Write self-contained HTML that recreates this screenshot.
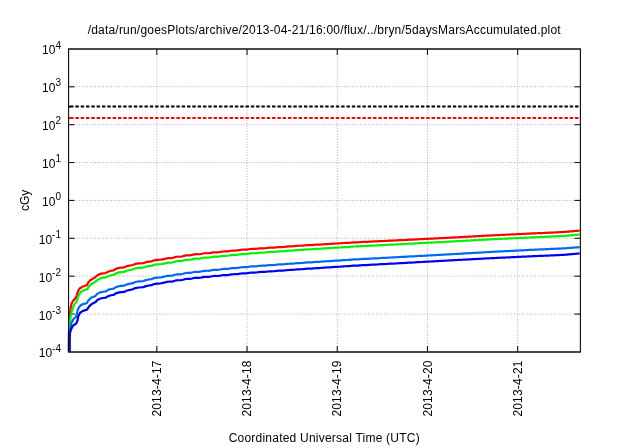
<!DOCTYPE html>
<html><head><meta charset="utf-8"><title>plot</title>
<style>
html,body{margin:0;padding:0;background:#fff;}
body{width:640px;height:448px;overflow:hidden;}
svg{display:block;will-change:transform;}
text{font-family:"Liberation Sans",sans-serif;font-size:12px;fill:#000;}
.sup{font-size:10px;}
</style></head><body>
<svg width="640" height="448" viewBox="0 0 640 448">
<rect width="640" height="448" fill="#fff"/>
<g stroke="#b0b0b0" stroke-width="1" stroke-dasharray="1 1.65" fill="none">
<line x1="68.55" y1="86.78" x2="580.4" y2="86.78"/>
<line x1="68.55" y1="124.66" x2="580.4" y2="124.66"/>
<line x1="68.55" y1="162.54" x2="580.4" y2="162.54"/>
<line x1="68.55" y1="200.43" x2="580.4" y2="200.43"/>
<line x1="68.55" y1="238.31" x2="580.4" y2="238.31"/>
<line x1="68.55" y1="276.19" x2="580.4" y2="276.19"/>
<line x1="68.55" y1="314.07" x2="580.4" y2="314.07"/>
<line x1="156.85" y1="48.9" x2="156.85" y2="351.95"/>
<line x1="247.05" y1="48.9" x2="247.05" y2="351.95"/>
<line x1="337.25" y1="48.9" x2="337.25" y2="351.95"/>
<line x1="427.45" y1="48.9" x2="427.45" y2="351.95"/>
<line x1="517.65" y1="48.9" x2="517.65" y2="351.95"/>
</g>
<g stroke="#181818" stroke-width="1.1" fill="none">
<line x1="68.55" y1="86.78" x2="74.55" y2="86.78"/><line x1="580.4" y1="86.78" x2="574.4" y2="86.78"/>
<line x1="68.55" y1="124.66" x2="74.55" y2="124.66"/><line x1="580.4" y1="124.66" x2="574.4" y2="124.66"/>
<line x1="68.55" y1="162.54" x2="74.55" y2="162.54"/><line x1="580.4" y1="162.54" x2="574.4" y2="162.54"/>
<line x1="68.55" y1="200.43" x2="74.55" y2="200.43"/><line x1="580.4" y1="200.43" x2="574.4" y2="200.43"/>
<line x1="68.55" y1="238.31" x2="74.55" y2="238.31"/><line x1="580.4" y1="238.31" x2="574.4" y2="238.31"/>
<line x1="68.55" y1="276.19" x2="74.55" y2="276.19"/><line x1="580.4" y1="276.19" x2="574.4" y2="276.19"/>
<line x1="68.55" y1="314.07" x2="74.55" y2="314.07"/><line x1="580.4" y1="314.07" x2="574.4" y2="314.07"/>
<line x1="156.85" y1="351.95" x2="156.85" y2="345.95"/><line x1="156.85" y1="48.9" x2="156.85" y2="54.9"/>
<line x1="247.05" y1="351.95" x2="247.05" y2="345.95"/><line x1="247.05" y1="48.9" x2="247.05" y2="54.9"/>
<line x1="337.25" y1="351.95" x2="337.25" y2="345.95"/><line x1="337.25" y1="48.9" x2="337.25" y2="54.9"/>
<line x1="427.45" y1="351.95" x2="427.45" y2="345.95"/><line x1="427.45" y1="48.9" x2="427.45" y2="54.9"/>
<line x1="517.65" y1="351.95" x2="517.65" y2="345.95"/><line x1="517.65" y1="48.9" x2="517.65" y2="54.9"/>
</g>
<line x1="68.55" y1="106.59" x2="580.4" y2="106.59" stroke="#000" stroke-width="2" stroke-dasharray="3.45 1.866" stroke-dashoffset="3.816"/>
<line x1="68.55" y1="117.99" x2="580.4" y2="117.99" stroke="#ff0000" stroke-width="2" stroke-dasharray="3.45 1.866" stroke-dashoffset="3.816"/>
<line x1="68.55" y1="106.59" x2="70.3" y2="106.59" stroke="#000" stroke-width="2"/>
<line x1="68.55" y1="117.99" x2="70.3" y2="117.99" stroke="#ff0000" stroke-width="2"/>
<polyline points="68.80,351.60 68.90,335.00 69.50,322.00 70.00,314.00 70.50,308.60 71.60,303.75 73.20,300.60 75.40,298.40 76.60,295.90 77.60,292.20 79.40,288.75 82.25,286.80 84.50,286.00 86.80,285.20 88.40,282.30 90.30,280.30 93.40,278.40 95.25,277.30 97.40,275.25 100.25,273.90 102.75,273.40 105.60,273.10 108.10,271.70 110.90,270.75 113.70,270.30 115.90,268.90 119.00,267.90 121.50,267.60 124.00,267.40 127.10,266.10 130.25,265.50 132.75,265.00 135.25,263.90 139.00,263.40 143.40,263.10 145.90,262.20 149.00,261.60 151.50,261.40 154.00,260.30 157.10,259.90 160.90,259.70 164.00,259.10 165.00,258.91 166.00,258.58 167.00,258.34 168.00,258.22 169.00,258.19 170.00,258.21 171.00,258.18 172.00,258.05 173.00,257.81 174.00,257.49 175.00,257.16 176.00,256.90 177.00,256.76 178.00,256.72 179.00,256.73 180.00,256.73 181.00,256.65 182.00,256.46 183.00,256.18 184.00,255.88 185.00,255.62 186.00,255.44 187.00,255.37 188.00,255.36 189.00,255.36 190.00,255.30 191.00,255.14 192.00,254.92 193.00,254.67 194.00,254.44 195.00,254.28 196.00,254.21 197.00,254.22 198.00,254.25 199.00,254.24 200.00,254.15 201.00,253.97 202.00,253.74 203.00,253.51 204.00,253.33 205.00,253.23 206.00,253.21 207.00,253.23 208.00,253.24 209.00,253.18 210.00,253.05 211.00,252.85 212.00,252.63 213.00,252.45 214.00,252.34 215.00,252.31 216.00,252.32 217.00,252.34 218.00,252.30 219.00,252.19 220.00,252.01 221.00,251.81 222.00,251.62 223.00,251.49 224.00,251.43 225.00,251.43 226.00,251.44 227.00,251.41 228.00,251.32 229.00,251.17 230.00,250.97 231.00,250.78 232.00,250.64 233.00,250.56 234.00,250.54 235.00,250.54 236.00,250.52 237.00,250.45 238.00,250.32 239.00,250.15 240.00,249.97 241.00,249.83 242.00,249.74 243.00,249.71 244.00,249.72 245.00,249.72 246.00,249.68 247.00,249.57 248.00,249.43 249.00,249.26 250.00,249.11 251.00,249.00 252.00,248.95 253.00,248.95 254.00,248.95 255.00,248.93 256.00,248.86 257.00,248.74 258.00,248.60 259.00,248.46 260.00,248.36 261.00,248.31 262.00,248.30 263.00,248.31 264.00,248.30 265.00,248.24 266.00,248.14 267.00,248.01 268.00,247.87 269.00,247.76 270.00,247.69 271.00,247.67 272.00,247.67 273.00,247.66 274.00,247.62 275.00,247.53 276.00,247.41 277.00,247.28 278.00,247.16 279.00,247.08 280.00,247.04 281.00,247.03 282.00,247.03 283.00,246.99 284.00,246.92 285.00,246.81 286.00,246.68 287.00,246.56 288.00,246.47 289.00,246.42 290.00,246.40 291.00,246.39 292.00,246.36 293.00,246.30 294.00,246.21 295.00,246.09 296.00,245.96 297.00,245.87 298.00,245.80 299.00,245.77 300.00,245.76 301.00,245.74 302.00,245.68 303.00,245.60 304.00,245.49 305.00,245.37 306.00,245.27 307.00,245.21 308.00,245.17 309.00,245.16 310.00,245.15 311.00,245.11 312.00,245.05 313.00,244.95 314.00,244.84 315.00,244.74 316.00,244.67 317.00,244.63 318.00,244.61 319.00,244.59 320.00,244.56 321.00,244.51 322.00,244.42 323.00,244.32 324.00,244.22 325.00,244.14 326.00,244.08 327.00,244.05 328.00,244.04 329.00,244.01 330.00,243.96 331.00,243.89 332.00,243.79 333.00,243.69 334.00,243.60 335.00,243.54 336.00,243.51 337.00,243.48 338.00,243.46 339.00,243.42 340.00,243.35 341.00,243.26 342.00,243.16 343.00,243.07 344.00,243.01 345.00,242.96 346.00,242.93 347.00,242.91 348.00,242.87 349.00,242.81 350.00,242.73 351.00,242.63 352.00,242.54 353.00,242.47 354.00,242.42 355.00,242.38 356.00,242.37 357.00,242.34 358.00,242.30 359.00,242.24 360.00,242.16 361.00,242.08 362.00,242.01 363.00,241.97 364.00,241.94 365.00,241.92 366.00,241.89 367.00,241.86 368.00,241.80 369.00,241.73 370.00,241.65 371.00,241.58 372.00,241.53 373.00,241.49 374.00,241.47 375.00,241.45 376.00,241.41 377.00,241.36 378.00,241.29 379.00,241.22 380.00,241.15 381.00,241.09 382.00,241.05 383.00,241.02 384.00,241.00 385.00,240.97 386.00,240.92 387.00,240.86 388.00,240.79 389.00,240.72 390.00,240.65 391.00,240.61 392.00,240.58 393.00,240.55 394.00,240.52 395.00,240.48 396.00,240.42 397.00,240.35 398.00,240.28 399.00,240.22 400.00,240.17 401.00,240.13 402.00,240.10 403.00,240.07 404.00,240.03 405.00,239.98 406.00,239.91 407.00,239.84 408.00,239.78 409.00,239.72 410.00,239.68 411.00,239.64 412.00,239.61 413.00,239.58 414.00,239.53 415.00,239.47 416.00,239.40 417.00,239.33 418.00,239.27 419.00,239.23 420.00,239.19 421.00,239.16 422.00,239.12 423.00,239.08 424.00,239.02 425.00,238.95 426.00,238.89 427.00,238.83 428.00,238.78 429.00,238.74 430.00,238.70 431.00,238.67 432.00,238.62 433.00,238.57 434.00,238.51 435.00,238.44 436.00,238.38 437.00,238.33 438.00,238.28 439.00,238.25 440.00,238.21 441.00,238.17 442.00,238.12 443.00,238.06 444.00,238.00 445.00,237.93 446.00,237.88 447.00,237.83 448.00,237.79 449.00,237.76 450.00,237.72 451.00,237.67 452.00,237.60 453.00,237.54 454.00,237.47 455.00,237.41 456.00,237.35 457.00,237.30 458.00,237.26 459.00,237.22 460.00,237.17 461.00,237.11 462.00,237.05 463.00,236.98 464.00,236.91 465.00,236.86 466.00,236.81 467.00,236.76 468.00,236.72 469.00,236.67 470.00,236.62 471.00,236.55 472.00,236.49 473.00,236.42 474.00,236.36 475.00,236.31 476.00,236.27 477.00,236.22 478.00,236.17 479.00,236.12 480.00,236.06 481.00,236.00 482.00,235.93 483.00,235.87 484.00,235.82 485.00,235.77 486.00,235.72 487.00,235.68 488.00,235.62 489.00,235.57 490.00,235.50 491.00,235.45 492.00,235.39 493.00,235.34 494.00,235.30 495.00,235.26 496.00,235.22 497.00,235.17 498.00,235.12 499.00,235.07 500.00,235.01 501.00,234.95 502.00,234.90 503.00,234.86 504.00,234.81 505.00,234.77 506.00,234.73 507.00,234.68 508.00,234.63 509.00,234.57 510.00,234.52 511.00,234.46 512.00,234.42 513.00,234.37 514.00,234.33 515.00,234.29 516.00,234.24 517.00,234.19 518.00,234.14 519.00,234.08 520.00,234.03 521.00,233.98 522.00,233.93 523.00,233.89 524.00,233.85 525.00,233.80 526.00,233.75 527.00,233.70 528.00,233.64 529.00,233.59 530.00,233.54 531.00,233.49 532.00,233.46 533.00,233.42 534.00,233.38 535.00,233.34 536.00,233.29 537.00,233.24 538.00,233.19 539.00,233.15 540.00,233.11 541.00,233.07 542.00,233.03 543.00,232.99 544.00,232.95 545.00,232.91 546.00,232.86 547.00,232.81 548.00,232.76 549.00,232.72 550.00,232.68 551.00,232.64 552.00,232.61 553.00,232.55 554.00,232.50 555.00,232.44 556.00,232.38 557.00,232.32 558.00,232.27 559.00,232.22 560.00,232.17 561.00,232.12 562.00,232.07 563.00,232.01 564.00,231.96 565.00,231.90 566.00,231.81 567.00,231.72 568.00,231.63 569.00,231.54 570.00,231.46 571.00,231.38 572.00,231.29 573.00,231.20 574.00,231.10 575.00,231.01 576.00,230.92 577.00,230.83 578.00,230.75 579.00,230.66 579.70,230.60" fill="none" stroke="#ff0000" stroke-width="2.2" stroke-linejoin="round" stroke-linecap="butt"/>
<polyline points="68.90,351.60 69.00,340.00 69.40,329.00 69.75,322.75 70.70,316.50 71.60,312.10 72.75,308.10 74.40,304.40 76.30,302.20 77.60,298.75 78.50,295.60 80.40,292.50 82.90,290.60 85.40,289.70 87.60,289.10 88.80,286.60 91.00,284.20 93.60,282.70 95.25,281.90 97.40,280.00 100.25,278.40 102.75,277.70 105.90,277.40 108.10,276.20 110.90,275.20 113.70,274.75 115.90,273.36 119.00,272.36 121.50,272.07 124.00,271.87 127.10,270.58 130.25,269.98 132.75,269.49 135.25,268.39 139.00,267.90 143.40,267.59 145.90,266.69 149.00,266.08 151.50,265.88 154.00,264.78 157.10,264.37 160.90,264.16 164.00,263.56 165.00,263.36 166.00,263.03 167.00,262.79 168.00,262.67 169.00,262.64 170.00,262.65 171.00,262.62 172.00,262.49 173.00,262.25 174.00,261.93 175.00,261.60 176.00,261.34 177.00,261.20 178.00,261.15 179.00,261.16 180.00,261.16 181.00,261.07 182.00,260.88 183.00,260.61 184.00,260.30 185.00,260.04 186.00,259.86 187.00,259.79 188.00,259.78 189.00,259.77 190.00,259.71 191.00,259.55 192.00,259.33 193.00,259.08 194.00,258.85 195.00,258.68 196.00,258.62 197.00,258.62 198.00,258.65 199.00,258.63 200.00,258.54 201.00,258.36 202.00,258.13 203.00,257.89 204.00,257.71 205.00,257.62 206.00,257.59 207.00,257.61 208.00,257.62 209.00,257.56 210.00,257.42 211.00,257.22 212.00,257.01 213.00,256.82 214.00,256.71 215.00,256.68 216.00,256.69 217.00,256.70 218.00,256.66 219.00,256.55 220.00,256.37 221.00,256.16 222.00,255.97 223.00,255.84 224.00,255.78 225.00,255.78 226.00,255.78 227.00,255.76 228.00,255.67 229.00,255.51 230.00,255.31 231.00,255.12 232.00,254.98 233.00,254.89 234.00,254.87 235.00,254.87 236.00,254.85 237.00,254.78 238.00,254.64 239.00,254.47 240.00,254.30 241.00,254.15 242.00,254.06 243.00,254.03 244.00,254.04 245.00,254.03 246.00,253.99 247.00,253.89 248.00,253.73 249.00,253.56 250.00,253.41 251.00,253.31 252.00,253.26 253.00,253.25 254.00,253.25 255.00,253.23 256.00,253.16 257.00,253.04 258.00,252.89 259.00,252.75 260.00,252.65 261.00,252.59 262.00,252.58 263.00,252.59 264.00,252.58 265.00,252.52 266.00,252.42 267.00,252.28 268.00,252.14 269.00,252.03 270.00,251.96 271.00,251.94 272.00,251.93 273.00,251.93 274.00,251.88 275.00,251.80 276.00,251.67 277.00,251.53 278.00,251.41 279.00,251.33 280.00,251.29 281.00,251.28 282.00,251.27 283.00,251.24 284.00,251.17 285.00,251.06 286.00,250.92 287.00,250.80 288.00,250.71 289.00,250.66 290.00,250.64 291.00,250.62 292.00,250.60 293.00,250.53 294.00,250.44 295.00,250.31 296.00,250.19 297.00,250.09 298.00,250.02 299.00,249.99 300.00,249.98 301.00,249.95 302.00,249.90 303.00,249.81 304.00,249.70 305.00,249.58 306.00,249.48 307.00,249.41 308.00,249.38 309.00,249.36 310.00,249.35 311.00,249.31 312.00,249.24 313.00,249.14 314.00,249.03 315.00,248.93 316.00,248.86 317.00,248.81 318.00,248.79 319.00,248.77 320.00,248.74 321.00,248.68 322.00,248.59 323.00,248.49 324.00,248.39 325.00,248.30 326.00,248.25 327.00,248.22 328.00,248.20 329.00,248.17 330.00,248.12 331.00,248.04 332.00,247.94 333.00,247.84 334.00,247.75 335.00,247.69 336.00,247.65 337.00,247.63 338.00,247.60 339.00,247.55 340.00,247.48 341.00,247.39 342.00,247.29 343.00,247.20 344.00,247.13 345.00,247.09 346.00,247.06 347.00,247.03 348.00,246.99 349.00,246.93 350.00,246.84 351.00,246.75 352.00,246.65 353.00,246.58 354.00,246.52 355.00,246.49 356.00,246.47 357.00,246.44 358.00,246.40 359.00,246.33 360.00,246.25 361.00,246.17 362.00,246.10 363.00,246.05 364.00,246.02 365.00,246.00 366.00,245.97 367.00,245.94 368.00,245.88 369.00,245.80 370.00,245.72 371.00,245.65 372.00,245.59 373.00,245.56 374.00,245.53 375.00,245.51 376.00,245.47 377.00,245.42 378.00,245.35 379.00,245.27 380.00,245.20 381.00,245.14 382.00,245.09 383.00,245.06 384.00,245.04 385.00,245.01 386.00,244.96 387.00,244.89 388.00,244.82 389.00,244.75 390.00,244.68 391.00,244.63 392.00,244.60 393.00,244.57 394.00,244.54 395.00,244.50 396.00,244.44 397.00,244.37 398.00,244.30 399.00,244.23 400.00,244.18 401.00,244.13 402.00,244.10 403.00,244.07 404.00,244.03 405.00,243.97 406.00,243.91 407.00,243.83 408.00,243.77 409.00,243.71 410.00,243.66 411.00,243.63 412.00,243.59 413.00,243.56 414.00,243.51 415.00,243.44 416.00,243.37 417.00,243.30 418.00,243.24 419.00,243.19 420.00,243.15 421.00,243.12 422.00,243.08 423.00,243.03 424.00,242.98 425.00,242.91 426.00,242.84 427.00,242.78 428.00,242.72 429.00,242.68 430.00,242.64 431.00,242.61 432.00,242.56 433.00,242.51 434.00,242.44 435.00,242.38 436.00,242.31 437.00,242.25 438.00,242.21 439.00,242.17 440.00,242.13 441.00,242.09 442.00,242.04 443.00,241.98 444.00,241.91 445.00,241.85 446.00,241.79 447.00,241.74 448.00,241.70 449.00,241.66 450.00,241.62 451.00,241.57 452.00,241.50 453.00,241.44 454.00,241.37 455.00,241.31 456.00,241.25 457.00,241.20 458.00,241.16 459.00,241.12 460.00,241.07 461.00,241.01 462.00,240.95 463.00,240.88 464.00,240.81 465.00,240.76 466.00,240.71 467.00,240.66 468.00,240.62 469.00,240.57 470.00,240.52 471.00,240.45 472.00,240.39 473.00,240.32 474.00,240.26 475.00,240.21 476.00,240.17 477.00,240.12 478.00,240.07 479.00,240.02 480.00,239.96 481.00,239.90 482.00,239.83 483.00,239.77 484.00,239.72 485.00,239.67 486.00,239.62 487.00,239.58 488.00,239.52 489.00,239.47 490.00,239.40 491.00,239.35 492.00,239.29 493.00,239.24 494.00,239.20 495.00,239.16 496.00,239.12 497.00,239.07 498.00,239.02 499.00,238.97 500.00,238.91 501.00,238.85 502.00,238.80 503.00,238.76 504.00,238.71 505.00,238.67 506.00,238.63 507.00,238.58 508.00,238.53 509.00,238.47 510.00,238.42 511.00,238.36 512.00,238.32 513.00,238.27 514.00,238.23 515.00,238.19 516.00,238.14 517.00,238.09 518.00,238.04 519.00,237.98 520.00,237.93 521.00,237.88 522.00,237.83 523.00,237.79 524.00,237.75 525.00,237.70 526.00,237.65 527.00,237.60 528.00,237.54 529.00,237.49 530.00,237.44 531.00,237.39 532.00,237.36 533.00,237.32 534.00,237.28 535.00,237.24 536.00,237.19 537.00,237.14 538.00,237.09 539.00,237.05 540.00,237.01 541.00,236.97 542.00,236.93 543.00,236.89 544.00,236.85 545.00,236.81 546.00,236.76 547.00,236.71 548.00,236.66 549.00,236.62 550.00,236.58 551.00,236.54 552.00,236.51 553.00,236.45 554.00,236.40 555.00,236.34 556.00,236.28 557.00,236.22 558.00,236.17 559.00,236.12 560.00,236.07 561.00,236.02 562.00,235.97 563.00,235.91 564.00,235.86 565.00,235.80 566.00,235.71 567.00,235.62 568.00,235.53 569.00,235.44 570.00,235.36 571.00,235.28 572.00,235.19 573.00,235.10 574.00,235.00 575.00,234.91 576.00,234.82 577.00,234.73 578.00,234.65 579.00,234.56 579.70,234.50" fill="none" stroke="#00f400" stroke-width="2.2" stroke-linejoin="round" stroke-linecap="butt"/>
<polyline points="69.10,351.60 69.20,342.00 69.60,334.00 70.40,329.00 71.60,322.75 73.50,319.00 76.00,316.80 76.90,313.40 77.60,310.25 79.10,307.00 81.20,304.90 84.10,303.90 86.70,303.30 88.50,300.30 91.00,297.80 93.50,296.80 95.30,296.10 97.20,293.90 100.00,292.40 102.90,291.75 105.90,291.45 108.10,289.90 110.90,289.00 113.70,288.56 115.90,287.17 119.00,286.18 121.50,285.89 124.00,285.70 127.10,284.35 130.25,283.69 132.75,283.15 135.25,282.00 139.00,281.44 143.40,281.06 145.90,280.12 149.00,279.46 151.50,279.22 154.00,278.07 157.10,277.62 160.90,277.35 164.00,276.70 165.00,276.51 166.00,276.18 167.00,275.93 168.00,275.81 169.00,275.79 170.00,275.80 171.00,275.77 172.00,275.64 173.00,275.39 174.00,275.07 175.00,274.75 176.00,274.49 177.00,274.34 178.00,274.30 179.00,274.31 180.00,274.31 181.00,274.22 182.00,274.03 183.00,273.76 184.00,273.45 185.00,273.19 186.00,273.02 187.00,272.94 188.00,272.93 189.00,272.93 190.00,272.86 191.00,272.70 192.00,272.49 193.00,272.24 194.00,272.00 195.00,271.84 196.00,271.77 197.00,271.78 198.00,271.80 199.00,271.79 200.00,271.70 201.00,271.52 202.00,271.29 203.00,271.05 204.00,270.87 205.00,270.78 206.00,270.76 207.00,270.77 208.00,270.78 209.00,270.72 210.00,270.59 211.00,270.39 212.00,270.17 213.00,269.99 214.00,269.88 215.00,269.84 216.00,269.86 217.00,269.87 218.00,269.83 219.00,269.72 220.00,269.54 221.00,269.33 222.00,269.14 223.00,269.01 224.00,268.95 225.00,268.95 226.00,268.95 227.00,268.93 228.00,268.84 229.00,268.68 230.00,268.49 231.00,268.30 232.00,268.15 233.00,268.07 234.00,268.04 235.00,268.04 236.00,268.03 237.00,267.95 238.00,267.82 239.00,267.65 240.00,267.47 241.00,267.33 242.00,267.24 243.00,267.20 244.00,267.20 245.00,267.20 246.00,267.15 247.00,267.05 248.00,266.90 249.00,266.72 250.00,266.57 251.00,266.46 252.00,266.41 253.00,266.40 254.00,266.40 255.00,266.38 256.00,266.30 257.00,266.18 258.00,266.03 259.00,265.89 260.00,265.79 261.00,265.73 262.00,265.72 263.00,265.72 264.00,265.71 265.00,265.65 266.00,265.55 267.00,265.41 268.00,265.27 269.00,265.15 270.00,265.08 271.00,265.06 272.00,265.05 273.00,265.04 274.00,265.00 275.00,264.91 276.00,264.78 277.00,264.64 278.00,264.52 279.00,264.44 280.00,264.40 281.00,264.39 282.00,264.38 283.00,264.34 284.00,264.26 285.00,264.15 286.00,264.02 287.00,263.89 288.00,263.80 289.00,263.74 290.00,263.72 291.00,263.71 292.00,263.68 293.00,263.62 294.00,263.51 295.00,263.39 296.00,263.26 297.00,263.16 298.00,263.10 299.00,263.06 300.00,263.04 301.00,263.02 302.00,262.96 303.00,262.87 304.00,262.76 305.00,262.63 306.00,262.54 307.00,262.47 308.00,262.43 309.00,262.41 310.00,262.40 311.00,262.36 312.00,262.29 313.00,262.19 314.00,262.07 315.00,261.97 316.00,261.89 317.00,261.84 318.00,261.82 319.00,261.80 320.00,261.77 321.00,261.70 322.00,261.61 323.00,261.51 324.00,261.40 325.00,261.32 326.00,261.26 327.00,261.23 328.00,261.20 329.00,261.17 330.00,261.12 331.00,261.04 332.00,260.94 333.00,260.83 334.00,260.74 335.00,260.68 336.00,260.64 337.00,260.61 338.00,260.58 339.00,260.53 340.00,260.46 341.00,260.37 342.00,260.26 343.00,260.17 344.00,260.10 345.00,260.05 346.00,260.02 347.00,259.99 348.00,259.94 349.00,259.88 350.00,259.79 351.00,259.69 352.00,259.60 353.00,259.52 354.00,259.46 355.00,259.42 356.00,259.40 357.00,259.38 358.00,259.33 359.00,259.26 360.00,259.18 361.00,259.09 362.00,259.02 363.00,258.97 364.00,258.94 365.00,258.91 366.00,258.88 367.00,258.84 368.00,258.78 369.00,258.70 370.00,258.62 371.00,258.55 372.00,258.49 373.00,258.45 374.00,258.42 375.00,258.39 376.00,258.36 377.00,258.30 378.00,258.23 379.00,258.15 380.00,258.07 381.00,258.01 382.00,257.96 383.00,257.93 384.00,257.90 385.00,257.87 386.00,257.82 387.00,257.75 388.00,257.68 389.00,257.60 390.00,257.53 391.00,257.48 392.00,257.44 393.00,257.41 394.00,257.38 395.00,257.33 396.00,257.27 397.00,257.20 398.00,257.13 399.00,257.06 400.00,257.00 401.00,256.96 402.00,256.92 403.00,256.89 404.00,256.84 405.00,256.79 406.00,256.72 407.00,256.64 408.00,256.57 409.00,256.51 410.00,256.46 411.00,256.43 412.00,256.39 413.00,256.35 414.00,256.30 415.00,256.23 416.00,256.16 417.00,256.08 418.00,256.02 419.00,255.97 420.00,255.93 421.00,255.89 422.00,255.85 423.00,255.80 424.00,255.74 425.00,255.67 426.00,255.60 427.00,255.53 428.00,255.48 429.00,255.43 430.00,255.39 431.00,255.35 432.00,255.31 433.00,255.25 434.00,255.18 435.00,255.11 436.00,255.05 437.00,254.99 438.00,254.94 439.00,254.90 440.00,254.86 441.00,254.81 442.00,254.76 443.00,254.69 444.00,254.63 445.00,254.56 446.00,254.50 447.00,254.45 448.00,254.40 449.00,254.36 450.00,254.32 451.00,254.26 452.00,254.20 453.00,254.13 454.00,254.06 455.00,253.99 456.00,253.93 457.00,253.88 458.00,253.84 459.00,253.79 460.00,253.74 461.00,253.68 462.00,253.61 463.00,253.54 464.00,253.47 465.00,253.41 466.00,253.36 467.00,253.31 468.00,253.27 469.00,253.22 470.00,253.16 471.00,253.09 472.00,253.02 473.00,252.95 474.00,252.89 475.00,252.84 476.00,252.79 477.00,252.74 478.00,252.69 479.00,252.64 480.00,252.57 481.00,252.50 482.00,252.44 483.00,252.37 484.00,252.32 485.00,252.27 486.00,252.22 487.00,252.17 488.00,252.11 489.00,252.05 490.00,251.99 491.00,251.92 492.00,251.87 493.00,251.81 494.00,251.77 495.00,251.72 496.00,251.68 497.00,251.63 498.00,251.58 499.00,251.52 500.00,251.46 501.00,251.40 502.00,251.35 503.00,251.30 504.00,251.26 505.00,251.21 506.00,251.17 507.00,251.12 508.00,251.06 509.00,251.00 510.00,250.94 511.00,250.88 512.00,250.83 513.00,250.79 514.00,250.74 515.00,250.70 516.00,250.65 517.00,250.59 518.00,250.54 519.00,250.48 520.00,250.42 521.00,250.37 522.00,250.32 523.00,250.28 524.00,250.23 525.00,250.18 526.00,250.13 527.00,250.07 528.00,250.01 529.00,249.96 530.00,249.90 531.00,249.85 532.00,249.81 533.00,249.78 534.00,249.73 535.00,249.69 536.00,249.64 537.00,249.59 538.00,249.53 539.00,249.49 540.00,249.44 541.00,249.40 542.00,249.36 543.00,249.32 544.00,249.28 545.00,249.23 546.00,249.18 547.00,249.12 548.00,249.08 549.00,249.03 550.00,248.99 551.00,248.95 552.00,248.91 553.00,248.86 554.00,248.82 555.00,248.77 556.00,248.72 557.00,248.67 558.00,248.62 559.00,248.58 560.00,248.54 561.00,248.50 562.00,248.46 563.00,248.41 564.00,248.36 565.00,248.31 566.00,248.23 567.00,248.15 568.00,248.07 569.00,248.00 570.00,247.92 571.00,247.85 572.00,247.77 573.00,247.68 574.00,247.60 575.00,247.52 576.00,247.44 577.00,247.36 578.00,247.28 579.00,247.20 579.70,247.15" fill="none" stroke="#0068f5" stroke-width="2.2" stroke-linejoin="round" stroke-linecap="butt"/>
<polyline points="69.70,351.80 69.70,336.00 70.20,332.20 71.20,329.00 72.90,325.90 76.30,323.40 77.60,320.25 78.20,316.50 80.10,312.75 82.90,310.90 87.00,309.60 88.80,306.80 91.20,304.40 94.10,302.80 95.70,302.00 97.30,300.00 99.90,298.70 102.90,298.00 105.90,297.70 108.10,296.20 110.90,295.25 113.70,294.80 115.90,293.40 119.00,292.40 121.50,292.10 124.00,291.90 127.10,290.52 130.25,289.84 132.75,289.28 135.25,288.12 139.00,287.52 143.40,287.12 145.90,286.15 149.00,285.48 151.50,285.21 154.00,284.05 157.10,283.57 160.90,283.28 164.00,282.60 165.00,282.41 166.00,282.08 167.00,281.85 168.00,281.73 169.00,281.71 170.00,281.72 171.00,281.69 172.00,281.57 173.00,281.33 174.00,281.01 175.00,280.69 176.00,280.43 177.00,280.30 178.00,280.26 179.00,280.27 180.00,280.27 181.00,280.19 182.00,280.00 183.00,279.73 184.00,279.43 185.00,279.17 186.00,279.00 187.00,278.93 188.00,278.93 189.00,278.92 190.00,278.86 191.00,278.71 192.00,278.50 193.00,278.25 194.00,278.02 195.00,277.86 196.00,277.80 197.00,277.81 198.00,277.84 199.00,277.83 200.00,277.74 201.00,277.57 202.00,277.34 203.00,277.11 204.00,276.93 205.00,276.84 206.00,276.82 207.00,276.84 208.00,276.85 209.00,276.80 210.00,276.67 211.00,276.47 212.00,276.26 213.00,276.08 214.00,275.98 215.00,275.95 216.00,275.96 217.00,275.98 218.00,275.94 219.00,275.83 220.00,275.66 221.00,275.46 222.00,275.27 223.00,275.14 224.00,275.09 225.00,275.09 226.00,275.10 227.00,275.08 228.00,274.99 229.00,274.84 230.00,274.65 231.00,274.46 232.00,274.32 233.00,274.24 234.00,274.22 235.00,274.22 236.00,274.21 237.00,274.14 238.00,274.01 239.00,273.85 240.00,273.67 241.00,273.53 242.00,273.44 243.00,273.41 244.00,273.41 245.00,273.40 246.00,273.36 247.00,273.25 248.00,273.10 249.00,272.93 250.00,272.78 251.00,272.67 252.00,272.62 253.00,272.61 254.00,272.61 255.00,272.59 256.00,272.52 257.00,272.39 258.00,272.25 259.00,272.10 260.00,272.00 261.00,271.95 262.00,271.94 263.00,271.94 264.00,271.93 265.00,271.87 266.00,271.77 267.00,271.63 268.00,271.49 269.00,271.37 270.00,271.30 271.00,271.28 272.00,271.28 273.00,271.27 274.00,271.22 275.00,271.13 276.00,271.01 277.00,270.87 278.00,270.75 279.00,270.67 280.00,270.63 281.00,270.62 282.00,270.61 283.00,270.57 284.00,270.50 285.00,270.38 286.00,270.25 287.00,270.13 288.00,270.03 289.00,269.98 290.00,269.96 291.00,269.95 292.00,269.92 293.00,269.85 294.00,269.75 295.00,269.63 296.00,269.50 297.00,269.40 298.00,269.34 299.00,269.30 300.00,269.29 301.00,269.26 302.00,269.21 303.00,269.12 304.00,269.00 305.00,268.88 306.00,268.78 307.00,268.71 308.00,268.68 309.00,268.66 310.00,268.65 311.00,268.61 312.00,268.53 313.00,268.43 314.00,268.32 315.00,268.22 316.00,268.14 317.00,268.09 318.00,268.06 319.00,268.04 320.00,268.00 321.00,267.94 322.00,267.85 323.00,267.74 324.00,267.64 325.00,267.55 326.00,267.49 327.00,267.46 328.00,267.43 329.00,267.40 330.00,267.35 331.00,267.27 332.00,267.16 333.00,267.06 334.00,266.97 335.00,266.90 336.00,266.86 337.00,266.83 338.00,266.80 339.00,266.75 340.00,266.68 341.00,266.58 342.00,266.48 343.00,266.39 344.00,266.31 345.00,266.26 346.00,266.23 347.00,266.20 348.00,266.15 349.00,266.09 350.00,266.00 351.00,265.90 352.00,265.80 353.00,265.72 354.00,265.67 355.00,265.63 356.00,265.60 357.00,265.57 358.00,265.53 359.00,265.46 360.00,265.37 361.00,265.29 362.00,265.22 363.00,265.16 364.00,265.13 365.00,265.10 366.00,265.07 367.00,265.03 368.00,264.97 369.00,264.89 370.00,264.81 371.00,264.73 372.00,264.67 373.00,264.63 374.00,264.60 375.00,264.57 376.00,264.54 377.00,264.48 378.00,264.41 379.00,264.33 380.00,264.25 381.00,264.18 382.00,264.14 383.00,264.10 384.00,264.07 385.00,264.04 386.00,263.99 387.00,263.92 388.00,263.84 389.00,263.76 390.00,263.70 391.00,263.64 392.00,263.61 393.00,263.57 394.00,263.54 395.00,263.49 396.00,263.43 397.00,263.36 398.00,263.28 399.00,263.21 400.00,263.15 401.00,263.11 402.00,263.07 403.00,263.04 404.00,262.99 405.00,262.94 406.00,262.86 407.00,262.79 408.00,262.72 409.00,262.65 410.00,262.61 411.00,262.57 412.00,262.53 413.00,262.49 414.00,262.43 415.00,262.37 416.00,262.29 417.00,262.22 418.00,262.16 419.00,262.10 420.00,262.06 421.00,262.02 422.00,261.98 423.00,261.93 424.00,261.87 425.00,261.80 426.00,261.72 427.00,261.66 428.00,261.60 429.00,261.56 430.00,261.52 431.00,261.48 432.00,261.43 433.00,261.37 434.00,261.30 435.00,261.23 436.00,261.16 437.00,261.10 438.00,261.05 439.00,261.01 440.00,260.97 441.00,260.92 442.00,260.87 443.00,260.80 444.00,260.73 445.00,260.66 446.00,260.60 447.00,260.55 448.00,260.50 449.00,260.46 450.00,260.42 451.00,260.37 452.00,260.31 453.00,260.24 454.00,260.17 455.00,260.11 456.00,260.06 457.00,260.01 458.00,259.97 459.00,259.93 460.00,259.88 461.00,259.82 462.00,259.76 463.00,259.69 464.00,259.63 465.00,259.57 466.00,259.53 467.00,259.48 468.00,259.44 469.00,259.39 470.00,259.34 471.00,259.28 472.00,259.21 473.00,259.15 474.00,259.09 475.00,259.04 476.00,259.00 477.00,258.95 478.00,258.91 479.00,258.85 480.00,258.79 481.00,258.73 482.00,258.67 483.00,258.61 484.00,258.56 485.00,258.51 486.00,258.46 487.00,258.42 488.00,258.37 489.00,258.31 490.00,258.25 491.00,258.19 492.00,258.14 493.00,258.09 494.00,258.05 495.00,258.01 496.00,257.97 497.00,257.93 498.00,257.88 499.00,257.82 500.00,257.77 501.00,257.71 502.00,257.66 503.00,257.62 504.00,257.58 505.00,257.54 506.00,257.50 507.00,257.45 508.00,257.40 509.00,257.34 510.00,257.29 511.00,257.23 512.00,257.19 513.00,257.15 514.00,257.11 515.00,257.06 516.00,257.02 517.00,256.97 518.00,256.91 519.00,256.86 520.00,256.81 521.00,256.76 522.00,256.72 523.00,256.68 524.00,256.63 525.00,256.59 526.00,256.54 527.00,256.49 528.00,256.43 529.00,256.38 530.00,256.33 531.00,256.29 532.00,256.25 533.00,256.22 534.00,256.18 535.00,256.14 536.00,256.09 537.00,256.04 538.00,255.99 539.00,255.95 540.00,255.91 541.00,255.87 542.00,255.84 543.00,255.80 544.00,255.76 545.00,255.72 546.00,255.67 547.00,255.62 548.00,255.58 549.00,255.53 550.00,255.50 551.00,255.46 552.00,255.42 553.00,255.37 554.00,255.32 555.00,255.26 556.00,255.20 557.00,255.15 558.00,255.09 559.00,255.04 560.00,255.00 561.00,254.95 562.00,254.90 563.00,254.84 564.00,254.79 565.00,254.73 566.00,254.64 567.00,254.55 568.00,254.47 569.00,254.38 570.00,254.30 571.00,254.22 572.00,254.13 573.00,254.04 574.00,253.95 575.00,253.86 576.00,253.77 577.00,253.68 578.00,253.60 579.00,253.51 579.70,253.45" fill="none" stroke="#0000f0" stroke-width="2.2" stroke-linejoin="round" stroke-linecap="butt"/>
<path d="M68.05 48.9H580.9M68.05 351.95H580.9" fill="none" stroke="#111" stroke-width="1.45"/>
<path d="M68.55 48.9V351.95M580.4 48.9V351.95" fill="none" stroke="#111" stroke-width="1.15"/>
<text id="title" x="87.65" y="34" textLength="473" lengthAdjust="spacing">/data/run/goesPlots/archive/2013-04-21/16:00/flux/../bryn/5daysMarsAccumulated.plot</text>
<text id="xlabel" x="228.65" y="441.8" textLength="191" lengthAdjust="spacing">Coordinated Universal Time (UTC)</text>
<text id="ylabel" transform="translate(29,200.4) rotate(-90)" text-anchor="middle">cGy</text>
<text class="yl" x="61" y="54.40" text-anchor="end">10<tspan class="sup" dy="-5.8">4</tspan></text>
<text class="yl" x="61" y="92.28" text-anchor="end">10<tspan class="sup" dy="-5.8">3</tspan></text>
<text class="yl" x="61" y="130.16" text-anchor="end">10<tspan class="sup" dy="-5.8">2</tspan></text>
<text class="yl" x="61" y="168.04" text-anchor="end">10<tspan class="sup" dy="-5.8">1</tspan></text>
<text class="yl" x="61" y="205.93" text-anchor="end">10<tspan class="sup" dy="-5.8">0</tspan></text>
<text class="yl" x="61" y="243.81" text-anchor="end">10<tspan class="sup" dy="-5.8">-1</tspan></text>
<text class="yl" x="61" y="281.69" text-anchor="end">10<tspan class="sup" dy="-5.8">-2</tspan></text>
<text class="yl" x="61" y="319.57" text-anchor="end">10<tspan class="sup" dy="-5.8">-3</tspan></text>
<text class="yl" x="61" y="357.45" text-anchor="end">10<tspan class="sup" dy="-5.8">-4</tspan></text>
<text class="xl" transform="translate(160.95,416.6) rotate(-90)" textLength="56.1" lengthAdjust="spacing">2013-4-17</text>
<text class="xl" transform="translate(251.15,416.6) rotate(-90)" textLength="56.1" lengthAdjust="spacing">2013-4-18</text>
<text class="xl" transform="translate(341.35,416.6) rotate(-90)" textLength="56.1" lengthAdjust="spacing">2013-4-19</text>
<text class="xl" transform="translate(431.55,416.6) rotate(-90)" textLength="56.1" lengthAdjust="spacing">2013-4-20</text>
<text class="xl" transform="translate(521.75,416.6) rotate(-90)" textLength="56.1" lengthAdjust="spacing">2013-4-21</text>
</svg></body></html>
